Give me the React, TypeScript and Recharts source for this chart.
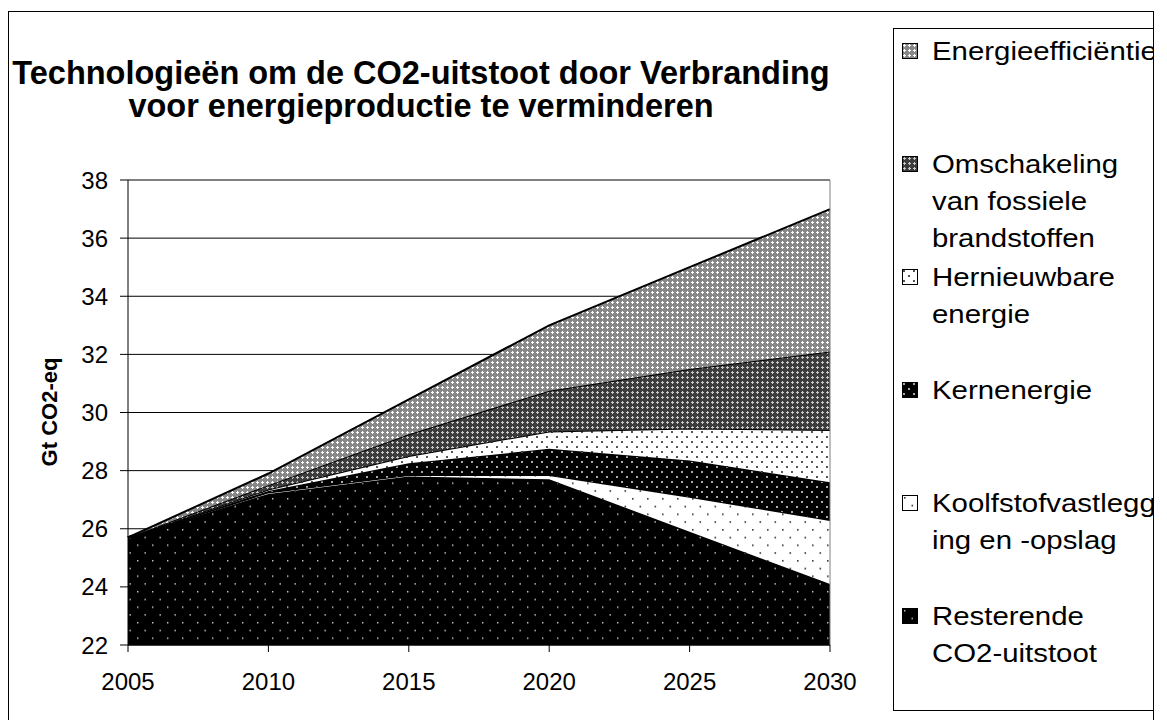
import { ReactElement } from 'react';
import { AreaChart, Area, XAxis, YAxis, CartesianGrid, Legend, ReferenceLine } from 'recharts';

const FONT = '"Liberation Sans", Arial, sans-serif';

const years = [2005, 2010, 2015, 2020, 2025, 2030];

// stacked layer thickness per year (Gt CO2-eq), bottom layer first
const resterende = [25.7, 27.2, 27.8, 27.7, 25.9, 24.1];
const koolstof = [0, 0.05, 0.05, 0.15, 1.2, 2.2];
const kernenergie = [0, 0.05, 0.4, 0.9, 1.25, 1.3];
const hernieuwbaar = [0, 0.05, 0.25, 0.6, 1.1, 1.8];
const omschakeling = [0, 0.15, 0.75, 1.4, 2.05, 2.7];
const efficientie = [0, 0.4, 1.2, 2.25, 3.5, 4.9];

const yTicks = [22, 24, 26, 28, 30, 32, 34, 36, 38];

const titleLines = [
  'Technologieën om de CO2-uitstoot door Verbranding',
  'voor energieproductie te verminderen',
];
const yLabel = 'Gt CO2-eq';

interface Serie {
  key: string;
  lines: string[];
  pattern: string;
  values: number[];
}

const series: Serie[] = [
  { key: 'resterende', lines: ['Resterende', 'CO2-uitstoot'], pattern: 'pRest', values: resterende },
  { key: 'koolstof', lines: ['Koolfstofvastlegg', 'ing en -opslag'], pattern: 'pCcs', values: koolstof },
  { key: 'kernenergie', lines: ['Kernenergie'], pattern: 'pNuc', values: kernenergie },
  { key: 'hernieuwbaar', lines: ['Hernieuwbare', 'energie'], pattern: 'pRen', values: hernieuwbaar },
  { key: 'omschakeling', lines: ['Omschakeling', 'van fossiele', 'brandstoffen'], pattern: 'pFuel', values: omschakeling },
  { key: 'efficientie', lines: ['Energieefficiëntie'], pattern: 'pEff', values: efficientie },
];

const data = years.map((year, i) => {
  const row: Record<string, number> = { year };
  series.forEach((s) => {
    row[s.key] = s.values[i];
  });
  return row;
});

const Patterns = () => (
  <defs>
    <pattern id="pRest" patternUnits="userSpaceOnUse" width={15} height={15.5}>
      <rect width={15} height={15.5} fill="#000" />
      <rect x={2} y={2} width={1.4} height={1.4} fill="#d8d8d8" />
      <rect x={9.5} y={9.75} width={1.4} height={1.4} fill="#d8d8d8" />
    </pattern>
    <pattern id="pCcs" patternUnits="userSpaceOnUse" width={15} height={15.5}>
      <rect width={15} height={15.5} fill="#fff" />
      <rect x={2} y={2} width={1.6} height={1.6} fill="#333" />
      <rect x={9.5} y={9.75} width={1.6} height={1.6} fill="#333" />
    </pattern>
    <pattern id="pNuc" patternUnits="userSpaceOnUse" width={10} height={10}>
      <rect width={10} height={10} fill="#000" />
      <rect x={1} y={1} width={2} height={2} fill="#aaa" />
      <rect x={6} y={6} width={2} height={2} fill="#aaa" />
    </pattern>
    <pattern id="pRen" patternUnits="userSpaceOnUse" width={10} height={10}>
      <rect width={10} height={10} fill="#fff" />
      <rect x={1} y={1} width={2} height={2} fill="#555" />
      <rect x={6} y={6} width={2} height={2} fill="#555" />
    </pattern>
    <pattern id="pFuel" patternUnits="userSpaceOnUse" width={5} height={5}>
      <rect width={5} height={5} fill="#3c3c3c" />
      <rect x={1} y={2} width={3} height={1} fill="#c8c8c8" />
      <rect x={2} y={1} width={1} height={3} fill="#c8c8c8" />
    </pattern>
    <pattern id="pEff" patternUnits="userSpaceOnUse" width={5} height={5}>
      <rect width={5} height={5} fill="#888" />
      <rect x={1} y={2} width={3} height={1} fill="#fff" />
      <rect x={2} y={1} width={1} height={3} fill="#fff" />
    </pattern>
  </defs>
);

const renderLegend = (): ReactElement => {
  const items = [...series].reverse();
  return (
    <div
      style={{
        position: 'relative',
        width: '100%',
        height: '100%',
        boxSizing: 'border-box',
        border: '1px solid #000',
        background: '#fff',
        overflow: 'hidden',
        fontFamily: FONT,
        fontSize: 26,
        color: '#000',
      }}
    >
      {items.map((s, i) => (
        <div key={s.key} style={{ position: 'absolute', left: 0, top: 4 + i * 113, width: '100%' }}>
          <svg width={16} height={16} style={{ position: 'absolute', left: 8, top: 10 }}>
            <rect x={0.5} y={0.5} width={15} height={15} fill={`url(#${s.pattern})`} stroke="#000" />
          </svg>
          <div
            style={{
              position: 'absolute',
              left: 38,
              top: 0,
              lineHeight: '37px',
              whiteSpace: 'pre',
              transform: 'scaleX(1.13)',
              transformOrigin: '0 0',
            }}
          >
            {s.lines.map((l) => (
              <div key={l}>{l}</div>
            ))}
          </div>
        </div>
      ))}
    </div>
  );
};

export default function App() {
  return (
    <div style={{ position: 'absolute', left: 0, top: 0, width: 1167, height: 720, background: '#fff', overflow: 'hidden' }}>
      <div
        style={{
          position: 'absolute',
          left: 8,
          top: 11,
          width: 1146,
          height: 730,
          boxSizing: 'border-box',
          border: '1px solid #000',
        }}
      />
      <div
        style={{
          position: 'absolute',
          left: 0,
          top: 57,
          width: 842,
          textAlign: 'center',
          fontFamily: FONT,
          fontWeight: 'bold',
          fontSize: 32.5,
          lineHeight: '33px',
          color: '#000',
        }}
      >
        {titleLines.map((l) => (
          <div key={l}>{l}</div>
        ))}
      </div>
      <div
        style={{
          position: 'absolute',
          left: 50,
          top: 412,
          width: 0,
          height: 0,
        }}
      >
        <div
          style={{
            position: 'absolute',
            left: 0,
            top: 0,
            transform: 'translate(-50%, -50%) rotate(-90deg)',
            whiteSpace: 'pre',
            fontFamily: FONT,
            fontWeight: 'bold',
            fontSize: 22,
            lineHeight: '24px',
            color: '#000',
          }}
        >
          {yLabel}
        </div>
      </div>
      <div style={{ position: 'absolute', left: 0, top: 0 }}>
        <AreaChart width={870} height={720} data={data} margin={{ top: 180, right: 40, left: 28, bottom: 25 }}>
          <Patterns />
          <CartesianGrid horizontal vertical={false} stroke="#000" strokeWidth={1} />
          <XAxis
            dataKey="year"
            type="number"
            domain={[2005, 2030]}
            ticks={years}
            height={50}
            axisLine={{ stroke: '#000' }}
            tickLine={{ stroke: '#000' }}
            tickSize={7}
            tickMargin={21}
            tick={{ fill: '#000', fontSize: 24, fontFamily: FONT }}
          />
          <YAxis
            domain={[22, 38]}
            ticks={yTicks}
            allowDataOverflow
            width={100}
            axisLine={{ stroke: '#000' }}
            tickLine={{ stroke: '#000' }}
            tickSize={8}
            tickMargin={12}
            tick={{ fill: '#000', fontSize: 24, fontFamily: FONT }}
          />
          <ReferenceLine y={38} stroke="#808080" strokeWidth={2} />
          <ReferenceLine x={2030} stroke="#808080" strokeWidth={1} />
          {series.map((s) => (
            <Area
              key={s.key}
              type="linear"
              dataKey={s.key}
              name={s.lines.join(' ')}
              stackId="a"
              stroke="#000"
              strokeWidth={2}
              fill={`url(#${s.pattern})`}
              fillOpacity={1}
              dot={false}
              activeDot={false}
              isAnimationActive={false}
            />
          ))}
          <Legend
            layout="vertical"
            align="center"
            verticalAlign="middle"
            content={renderLegend}
            wrapperStyle={{ position: 'absolute', left: 893, top: 28, width: 261, height: 683 }}
          />
        </AreaChart>
      </div>
    </div>
  );
}
